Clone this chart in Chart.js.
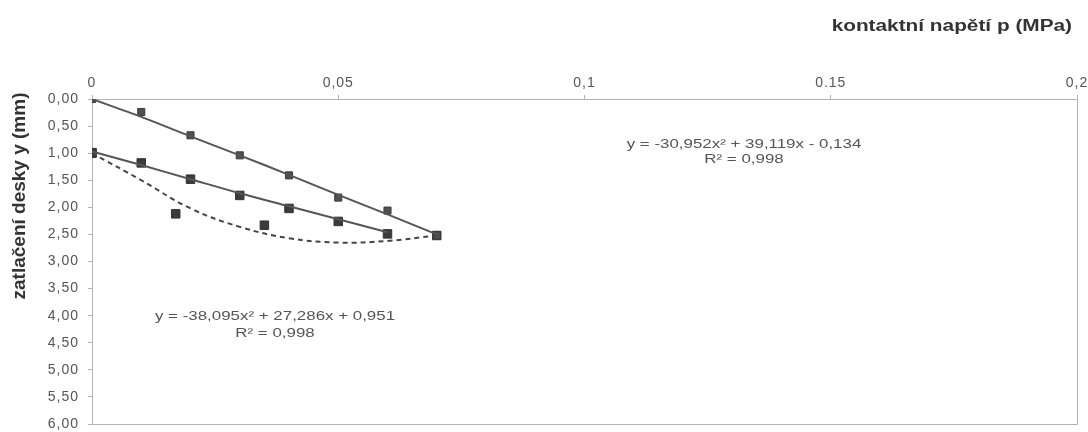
<!DOCTYPE html>
<html lang="cs">
<head>
    <meta charset="UTF-8">
    <title>Zatlačení desky</title>
    <script src="https://cdn.jsdelivr.net/npm/chart.js"></script>
    <style>
        html, body { margin: 0; padding: 0; background: #fff; }
        #wrap { width: 1088px; height: 432px; }
    </style>
</head>
<body>
    <div id="wrap"><canvas id="plateChart"></canvas></div>

    <script>
        // values
        const pressure = [0, 0.01, 0.02, 0.03, 0.04, 0.05, 0.06, 0.07];
        const loadMarks = [0, 0.24, 0.67, 1.04, 1.41, 1.82, 2.06, 2.52];
        const loadTrend = [0, 0.33, 0.69, 1.04, 1.40, 1.77, 2.13, 2.50];

        const pressureUnload = [0, 0.01, 0.02, 0.03, 0.04, 0.05, 0.06];
        const unloadMarks = [0.99, 1.18, 1.48, 1.78, 2.02, 2.26, 2.49];
        const unloadTrend = [0.97, 1.22, 1.48, 1.74, 1.98, 2.22, 2.46];

        const pressureRepeat = [0, 0.017, 0.035, 0.07];
        const repeatMarks = [1.0, 2.12, 2.33, 2.52];
        const repeatCurve = [1.0, 1.5, 2.02, 2.36, 2.57, 2.65, 2.62, 2.52];

        const xTicks = [0, 0.05, 0.1, 0.15, 0.2];
        const xTickLabels = ['0', '0,05', '0,1', '0.15', '0,2'];
        const yTicks = [0, 0.5, 1, 1.5, 2, 2.5, 3, 3.5, 4, 4.5, 5, 5.5, 6];
        const yTickLabels = ['0,00', '0,50', '1,00', '1,50', '2,00', '2,50', '3,00', '3,50', '4,00', '4,50', '5,00', '5,50', '6,00'];

        const pts = (xs, ys) => ys.map((y, i) => ({ x: xs[i], y: y }));

        const tickFont = { family: 'Liberation Sans, Arial, sans-serif', size: 14 };
        const axisGray = '#b4b4b4';
        const stretch = 1.3; // the scanned original is wide

        // draws a horizontally widened line of text
        function wideText(ctx, text, x, y) {
            ctx.save();
            ctx.translate(x, y);
            ctx.scale(stretch, 1);
            ctx.fillText(text, 0, 0);
            ctx.restore();
        }

        // frame + axis titles + trendline equations
        const extras = {
            id: 'extras',
            beforeDraw(chart) {
                chart.ctx.letterSpacing = '1px';
            },
            beforeDatasetsDraw(chart) {
                const { ctx, chartArea: a } = chart;
                ctx.save();
                ctx.strokeStyle = axisGray;
                ctx.lineWidth = 1;
                ctx.beginPath();
                ctx.moveTo(a.right + 0.5, a.top);
                ctx.lineTo(a.right + 0.5, a.bottom + 0.5);
                ctx.lineTo(a.left, a.bottom + 0.5);
                ctx.stroke();
                ctx.restore();
            },
            afterDraw(chart) {
                const ctx = chart.ctx;
                ctx.save();
                ctx.letterSpacing = '0px';
                ctx.fillStyle = '#333';
                ctx.font = 'bold 16px Liberation Sans, Arial, sans-serif';
                ctx.textAlign = 'right';
                ctx.textBaseline = 'middle';
                wideText(ctx, 'kontaktní napětí p (MPa)', 1072, 27);

                ctx.save();
                ctx.translate(20, 196);
                ctx.rotate(-Math.PI / 2);
                ctx.textAlign = 'center';
                ctx.font = 'bold 19px Liberation Sans, Arial, sans-serif';
                ctx.fillText('zatlačení desky y (mm)', 0, 0);
                ctx.restore();

                ctx.fillStyle = '#555';
                ctx.font = '13px Liberation Sans, Arial, sans-serif';
                ctx.textAlign = 'center';
                wideText(ctx, 'y = -30,952x² + 39,119x - 0,134', 744, 144);
                wideText(ctx, 'R² = 0,998', 744, 159);
                wideText(ctx, 'y = -38,095x² + 27,286x + 0,951', 275, 316);
                wideText(ctx, 'R² = 0,998', 275, 333);
                ctx.restore();
            }
        };

        new Chart(document.getElementById('plateChart'), {
            type: 'scatter',
            data: {
                datasets: [
                    {
                        label: 'trend zatížení',
                        data: pts(pressure, loadTrend),
                        showLine: true, pointRadius: 0,
                        borderColor: '#555', borderWidth: 2, tension: 0.3
                    },
                    {
                        label: 'trend odlehčení',
                        data: pts(pressureUnload, unloadTrend),
                        showLine: true, pointRadius: 0,
                        borderColor: '#555', borderWidth: 2, tension: 0.3
                    },
                    {
                        label: 'opakované zatížení',
                        data: pts(pressure, repeatCurve),
                        showLine: true, pointRadius: 0,
                        borderColor: '#444', borderWidth: 2, borderDash: [5, 4], tension: 0.4
                    },
                    {
                        label: 'zatížení',
                        data: pts(pressure, loadMarks),
                        pointStyle: 'rect', pointRadius: 5,
                        backgroundColor: '#505050', borderColor: '#3a3a3a'
                    },
                    {
                        label: 'odlehčení',
                        data: pts(pressureUnload, unloadMarks),
                        pointStyle: 'rect', pointRadius: 6,
                        backgroundColor: '#3c3c3c', borderColor: '#333'
                    },
                    {
                        label: 'opakované',
                        data: pts(pressureRepeat, repeatMarks),
                        pointStyle: 'rect', pointRadius: 6,
                        backgroundColor: '#3c3c3c', borderColor: '#333'
                    }
                ]
            },
            options: {
                responsive: true,
                maintainAspectRatio: false,
                animation: false,
                layout: { padding: { left: 0, top: 0, right: 11, bottom: 8 } },
                plugins: { legend: { display: false }, tooltip: { enabled: false } },
                scales: {
                    x: {
                        type: 'linear', position: 'top', min: 0, max: 0.2,
                        afterBuildTicks: s => { s.ticks = xTicks.map(v => ({ value: v })); },
                        afterFit: s => { s.height = 99; s.paddingLeft = 0; s.paddingRight = 0; },
                        ticks: {
                            callback: (v, i) => xTickLabels[i],
                            font: tickFont, color: '#555', padding: 3, maxRotation: 0
                        },
                        grid: { drawOnChartArea: false, tickLength: 4, color: axisGray },
                        border: { color: axisGray }
                    },
                    y: {
                        type: 'linear', reverse: true, min: 0, max: 6,
                        afterBuildTicks: s => { s.ticks = yTicks.map(v => ({ value: v })); },
                        afterFit: s => { s.width = 92; s.paddingTop = 0; s.paddingBottom = 0; },
                        ticks: {
                            callback: (v, i) => yTickLabels[i],
                            font: tickFont, color: '#555', padding: 9
                        },
                        grid: { drawOnChartArea: false, tickLength: 4, color: axisGray },
                        border: { color: axisGray }
                    }
                }
            },
            plugins: [extras]
        });
    </script>
</body>
</html>
